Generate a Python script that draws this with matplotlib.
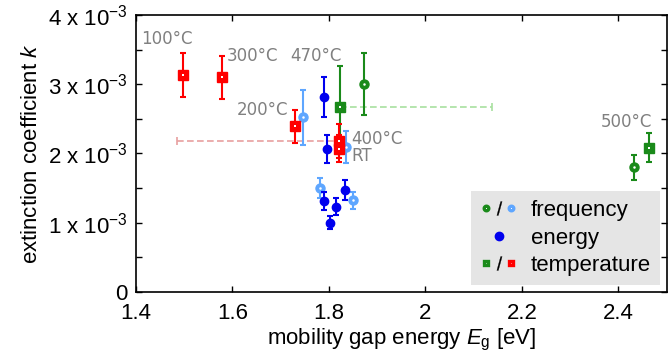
import numpy as np
import matplotlib
matplotlib.use("Agg")
import matplotlib.pyplot as plt
from matplotlib.lines import Line2D
from matplotlib.legend_handler import HandlerTuple

plt.rcParams["font.family"] = ["Liberation Sans", "DejaVu Sans"]
plt.rcParams["mathtext.fontset"] = "custom"
plt.rcParams["mathtext.rm"] = "Liberation Sans"
plt.rcParams["mathtext.it"] = "Liberation Sans:italic"
plt.rcParams["font.size"] = 16

# Data (k in units of 1e-3)
# frequency series, green (annealed) and light blue
freq_g_x = [1.872, 2.432]
freq_g_y = [3.00, 1.80]
freq_g_err = [0.45, 0.18]

freq_b_x = [1.747, 1.835, 1.781, 1.849]
freq_b_y = [2.52, 2.09, 1.50, 1.32]
freq_b_err = [0.40, 0.23, 0.145, 0.125]

# energy series
energy_x = [1.789, 1.796, 1.789, 1.802, 1.815, 1.833]
energy_y = [2.82, 2.06, 1.31, 1.00, 1.23, 1.47]
energy_err = [0.29, 0.20, 0.13, 0.10, 0.12, 0.15]

# temperature series, green (470 / 500 C) and red (RT..400 C)
temp_g_x = [1.822, 2.463]
temp_g_y = [2.67, 2.08]
temp_g_err = [0.60, 0.21]

temp_r_labels = ["100°C", "300°C", "200°C", "400°C", "RT"]
temp_r_x = [1.497, 1.579, 1.730, 1.820, 1.820]
temp_r_y = [3.13, 3.10, 2.39, 2.18, 2.07]
temp_r_err = [0.32, 0.31, 0.24, 0.25, 0.20]

# horizontal (dashed) uncertainty ranges
hrange_r = (1.820, 2.18, 0.336, 0.0)   # x, y, left, right
hrange_g = (1.822, 2.67, 0.0, 0.316)

green = "#1a8a1a"
lblue = "#5ea6ff"
blue = "#0000ee"
red = "#ff0000"

fig, ax = plt.subplots(figsize=(6.71, 3.62), dpi=100)
fig.subplots_adjust(left=0.2027, right=0.9935, bottom=0.194, top=0.9586)

# dashed horizontal ranges
for (hx, hy, hl, hr), c in [(hrange_r, "#e8a0a0"), (hrange_g, "#a8e0a0")]:
    eb = ax.errorbar([hx], [hy], xerr=[[hl], [hr]], fmt="none", ecolor=c,
                     elinewidth=1.2, capsize=3, capthick=1.2, zorder=1)
    eb[2][0].set_linestyle((0, (4, 2)))

bar = dict(capsize=2.5, capthick=1.5, elinewidth=1.5, linestyle="none")


def dotted(x, y, err, marker, color, z, ms):
    # filled marker with a small white dot in the middle
    ax.errorbar(x, y, yerr=err, marker=marker, ms=ms, color=color, zorder=z, **bar)
    ax.plot(x, y, marker=marker, ms=1.8, mew=0, color="white", ls="none", zorder=z + 0.5)


dotted(temp_g_x, temp_g_y, temp_g_err, "s", green, 2, 6.5)
dotted(freq_g_x, freq_g_y, freq_g_err, "o", green, 2, 6.5)
dotted(freq_b_x, freq_b_y, freq_b_err, "o", lblue, 3, 6.5)
ax.errorbar(energy_x, energy_y, yerr=energy_err, marker="o", ms=6,
            color=blue, zorder=4, **bar)
dotted(temp_r_x, temp_r_y, temp_r_err, "s", red, 5, 7)

# annotations
lab = dict(color="#808080", fontsize=12, family="DejaVu Sans", va="center")
ax.text(1.463, 3.65, "100°C", ha="center", **lab)
ax.text(1.588, 3.41, "300°C", ha="left", **lab)
ax.text(1.772, 3.41, "470°C", ha="center", **lab)
ax.text(1.716, 2.63, "200°C", ha="right", **lab)
ax.text(1.847, 2.21, "400°C", ha="left", **lab)
ax.text(1.847, 1.96, "RT", ha="left", **lab)
ax.text(2.417, 2.46, "500°C", ha="center", **lab)

ax.set_xlim(1.4, 2.5)
ax.set_ylim(0, 4)
ax.set_xticks([1.4, 1.6, 1.8, 2.0, 2.2, 2.4])
ax.set_xticklabels(["1.4", "1.6", "1.8", "2", "2.2", "2.4"])
ax.set_yticks([0, 1, 2, 3, 4])
ax.set_yticklabels(["0"] + [f"{i} x 10$^{{-3}}$" for i in range(1, 5)])
ax.set_yticks([0.5, 1.5, 2.5, 3.5], minor=True)
ax.tick_params(which="both", direction="in", top=True, right=True,
               length=4, width=1, pad=6)
ax.tick_params(axis="x", pad=8)
for s in ax.spines.values():
    s.set_linewidth(1.2)

ax.set_xlabel("mobility gap energy $E_\\mathrm{g}$ [eV]", labelpad=2)
ax.set_ylabel("extinction coefficient $k$")

# legend
slash = Line2D([], [], marker="$/$", color="black", ms=10, mew=0.2, ls="none")
lm = dict(mfc="white", mew=2.4, ms=3.3, ls="none")
h_freq = (Line2D([], [], marker="o", color=green, **lm),
          slash,
          Line2D([], [], marker="o", color=lblue, **lm))
h_en = Line2D([], [], marker="o", color=blue, ms=6, ls="none")
h_temp = (Line2D([], [], marker="s", color=green, **lm),
          slash,
          Line2D([], [], marker="s", color=red, **lm))
leg = ax.legend([h_freq, h_en, h_temp], ["frequency", "energy", "temperature"],
                handler_map={tuple: HandlerTuple(ndivide=None, pad=0.0)},
                loc="lower right", borderaxespad=0.3, fancybox=False,
                facecolor="#e5e5e5", edgecolor="none", framealpha=1,
                handlelength=1.7, handletextpad=0.6, labelspacing=0.3,
                borderpad=0.4)

fig.savefig("out.png", dpi=100)
